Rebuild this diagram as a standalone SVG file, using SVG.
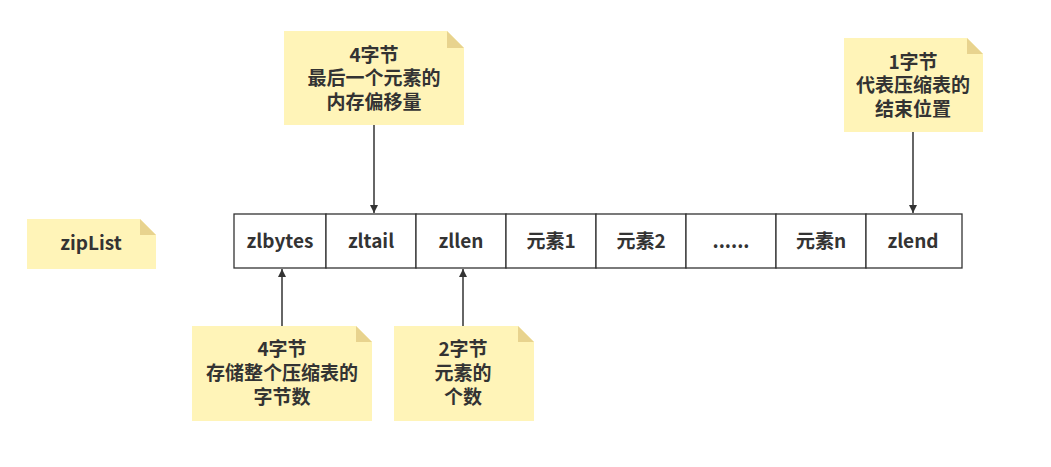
<svg xmlns="http://www.w3.org/2000/svg" width="1051" height="467" viewBox="0 0 1051 467">
<defs>
<style>
.note{fill:#fff4b8;}
.fold{fill:#e8d38e;}
.t{font-family:"Noto Sans CJK SC","Noto Sans",sans-serif;font-weight:bold;font-size:19px;fill:#333;text-anchor:middle;}
.cell{fill:#fff;stroke:#333;stroke-width:1.3;}
.conn{stroke:#333;stroke-width:1.5;fill:none;}
</style>
<marker id="ah" viewBox="0 0 10 10" refX="10" refY="5" markerWidth="8" markerHeight="8" markerUnits="userSpaceOnUse" orient="auto">
<path d="M0,0 L10,5 L0,10 z" fill="#333"/>
</marker>
</defs>
<rect width="1051" height="467" fill="#fff"/>

<g id="note-zltail">
<path class="note" d="M284,31 H447 L464,48 V125 H284 Z"/>
<path class="fold" d="M447,31 L464,48 H447 Z"/>
<text class="t" x="374" y="62">4字节</text>
<text class="t" x="374" y="85">最后一个元素的</text>
<text class="t" x="374" y="109">内存偏移量</text>
</g>

<g id="note-zlend">
<path class="note" d="M844,38 H967 L983,54 V132 H844 Z"/>
<path class="fold" d="M967,38 L983,54 H967 Z"/>
<text class="t" x="913" y="69">1字节</text>
<text class="t" x="913" y="92">代表压缩表的</text>
<text class="t" x="913" y="116">结束位置</text>
</g>

<g id="note-ziplist">
<path class="note" d="M27,219 H140 L156,235 V269 H27 Z"/>
<path class="fold" d="M140,219 L156,235 H140 Z"/>
<text class="t" x="91" y="250">zipList</text>
</g>

<g id="note-zlbytes">
<path class="note" d="M192,326 H356 L372,342 V421 H192 Z"/>
<path class="fold" d="M356,326 L372,342 H356 Z"/>
<text class="t" x="282" y="356">4字节</text>
<text class="t" x="282" y="380">存储整个压缩表的</text>
<text class="t" x="282" y="404">字节数</text>
</g>

<g id="note-zllen">
<path class="note" d="M394,326 H518 L534,342 V421 H394 Z"/>
<path class="fold" d="M518,326 L534,342 H518 Z"/>
<text class="t" x="463" y="356">2字节</text>
<text class="t" x="463" y="380">元素的</text>
<text class="t" x="463" y="404">个数</text>
</g>

<g id="cells">
<g id="cell-zlbytes"><rect class="cell" x="234" y="214" width="92" height="54"/><text class="t" x="280" y="248">zlbytes</text></g>
<g id="cell-zltail"><rect class="cell" x="326" y="214" width="90" height="54"/><text class="t" x="371" y="248">zltail</text></g>
<g id="cell-zllen"><rect class="cell" x="416" y="214" width="90" height="54"/><text class="t" x="461" y="248">zllen</text></g>
<g id="cell-e1"><rect class="cell" x="506" y="214" width="90" height="54"/><text class="t" x="551" y="248">元素1</text></g>
<g id="cell-e2"><rect class="cell" x="596" y="214" width="90" height="54"/><text class="t" x="641" y="248">元素2</text></g>
<g id="cell-dots"><rect class="cell" x="686" y="214" width="90" height="54"/><text class="t" x="731" y="248">......</text></g>
<g id="cell-en"><rect class="cell" x="776" y="214" width="90" height="54"/><text class="t" x="821" y="248">元素n</text></g>
<g id="cell-zlend"><rect class="cell" x="866" y="214" width="96" height="54"/><text class="t" x="913" y="248">zlend</text></g>
</g>

<g id="connectors">
<line class="conn" x1="374" y1="125" x2="374" y2="213" marker-end="url(#ah)"/>
<line class="conn" x1="913" y1="132" x2="913" y2="213" marker-end="url(#ah)"/>
<line class="conn" x1="282" y1="326" x2="282" y2="269" marker-end="url(#ah)"/>
<line class="conn" x1="463" y1="326" x2="463" y2="269" marker-end="url(#ah)"/>
</g>
</svg>
